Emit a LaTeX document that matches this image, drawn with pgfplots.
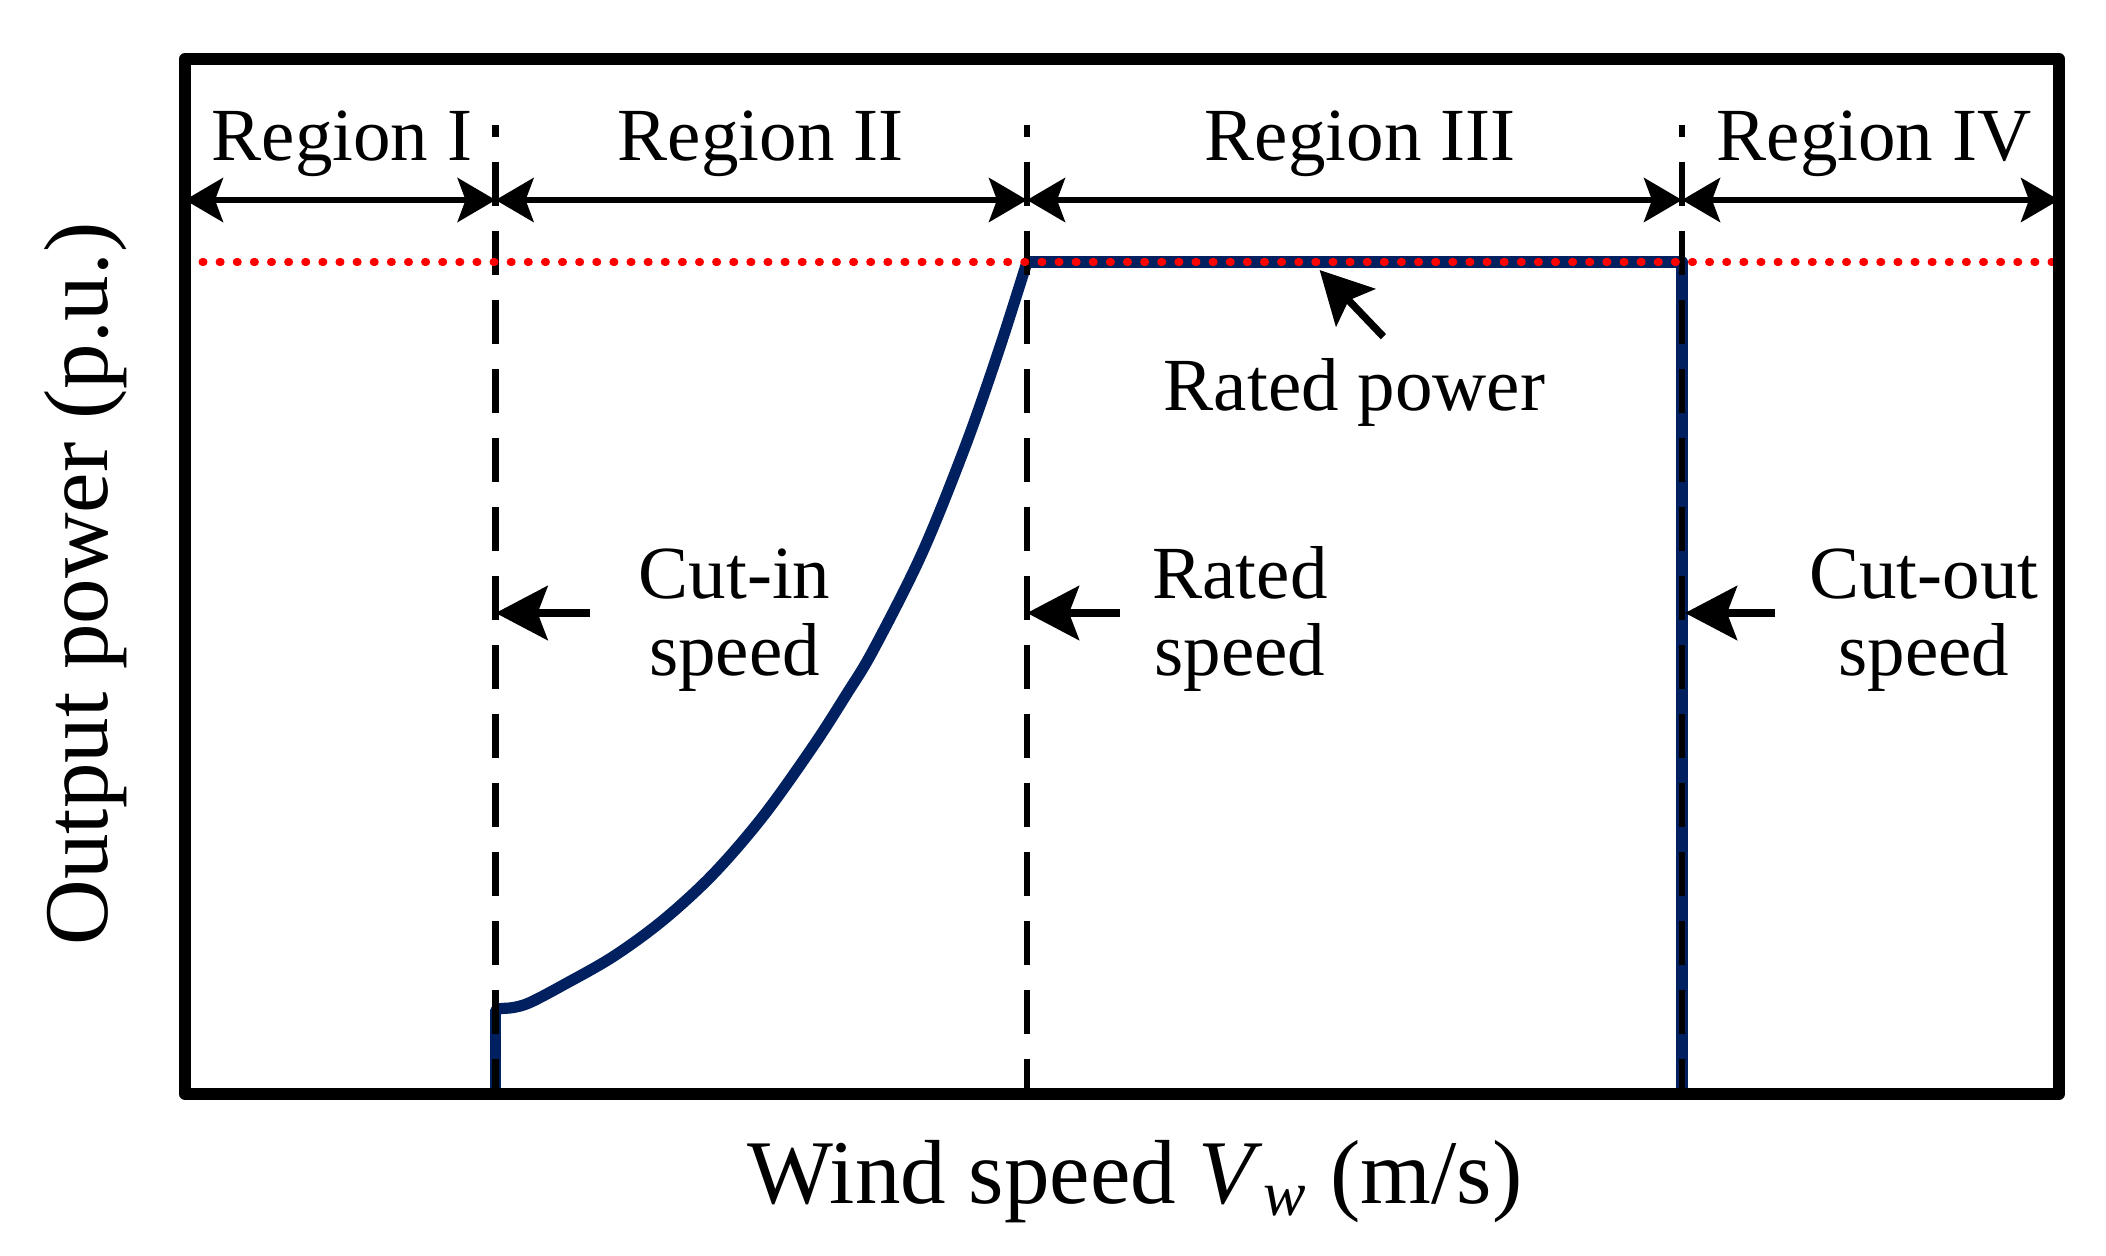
\documentclass[border=0pt]{standalone}
\usepackage{fontspec}
\setmainfont{Liberation Serif}
\usepackage{pgfplots}
\pgfplotsset{compat=1.18}
\usetikzlibrary{arrows.meta}
\definecolor{curveblue}{RGB}{0,32,96}

\begin{document}
\begin{tikzpicture}[
  region/.style={line width=1.5pt,
    {Stealth[length=9.5pt,width=11pt,inset=2pt]}-{Stealth[length=9.5pt,width=11pt,inset=2pt]}},
  pointer/.style={line width=1.85pt, -{Stealth[length=13pt,width=13.5pt,inset=2.5pt]}},
  lbl/.style={font=\fontsize{18.75}{22}\selectfont, anchor=base, inner sep=0pt},
  vdash/.style={black, line width=1.65pt, dash pattern=on 11pt off 6.25pt, dash phase=8pt}]
\begin{axis}[
  scale only axis, width=468.5pt, height=258.75pt,
  xmin=0, xmax=18.74, ymin=0, ymax=10.35,
  xtick=\empty, ytick=\empty,
  axis line style={line width=3pt, line join=round},
  axis on top, clip=false,
  xlabel={Wind speed \textit{V}\textsubscript{\textit{w}} (m/s)},
  ylabel={Output power (p.u.)},
  label style={font=\fontsize{22.75}{27}\selectfont, inner sep=0pt},
  xlabel style={at={(rel axis cs:0.5069,-0.1053)}, anchor=base},
  ylabel style={at={(rel axis cs:-0.0416,0.4928)}, anchor=base},
]
% power curve
\addplot[curveblue, line width=2.8pt, line cap=round] coordinates {(3.106,0) (3.106,0.83)};
\addplot[curveblue, line width=2.8pt, line cap=round, line join=round, smooth, tension=0.55] coordinates {
(3.106,0.83) (3.15,0.853) (3.283,0.865) (3.45,0.915) (3.783,1.09) (4.283,1.375)
(4.783,1.74) (5.283,2.20) (5.783,2.78) (6.283,3.48) (6.617,4.00) (6.883,4.44)
(7.367,5.40) (7.80,6.47) (8.133,7.42) (8.42,8.32)};
\addplot[curveblue, line width=2.8pt, line join=round] coordinates {(8.42,8.32) (14.97,8.32) (14.97,0)};

% speed boundaries
\addplot[vdash] coordinates {(3.106,9.69) (3.106,0)};
\addplot[vdash] coordinates {(8.42,9.69) (8.42,0)};
\addplot[vdash] coordinates {(14.97,9.69) (14.97,0)};

% rated power level
\addplot[red, line width=1.8pt, line cap=round, dash pattern=on 0.45pt off 3.83pt] coordinates {(0,8.32) (18.74,8.32)};

% regions
\draw[region] (axis cs:0,8.94) -- (axis cs:3.106,8.94);
\draw[region] (axis cs:3.106,8.94) -- (axis cs:8.42,8.94);
\draw[region] (axis cs:8.42,8.94) -- (axis cs:14.97,8.94);
\draw[region] (axis cs:14.97,8.94) -- (axis cs:18.74,8.94);
\node[lbl] at (axis cs:1.57,9.33) {Region I};
\node[lbl] at (axis cs:5.755,9.33) {Region II};
\node[lbl] at (axis cs:11.75,9.33) {Region III};
\node[lbl] at (axis cs:16.89,9.33) {Region IV};

% annotations
\draw[pointer] (axis cs:4.05,4.81) -- (axis cs:3.106,4.81);
\draw[pointer] (axis cs:9.35,4.81) -- (axis cs:8.42,4.81);
\draw[pointer] (axis cs:15.90,4.81) -- (axis cs:15.0,4.81);
\draw[pointer] (axis cs:11.984,7.573) -- (axis cs:11.346,8.24);
\node[lbl] at (axis cs:5.495,4.954) {Cut-in};
\node[lbl] at (axis cs:5.495,4.19) {speed};
\node[lbl] at (axis cs:10.55,4.954) {Rated};
\node[lbl] at (axis cs:10.55,4.19) {speed};
\node[lbl] at (axis cs:17.39,4.954) {Cut-out};
\node[lbl] at (axis cs:17.39,4.19) {speed};
\node[lbl] at (axis cs:11.695,6.84) {Rated power};

\coordinate (bl) at (axis cs:-1.85,-1.61);
\coordinate (tr) at (axis cs:19.21,10.94);
\end{axis}
\pgfresetboundingbox
\path (bl) rectangle (tr);
\end{tikzpicture}
\end{document}
